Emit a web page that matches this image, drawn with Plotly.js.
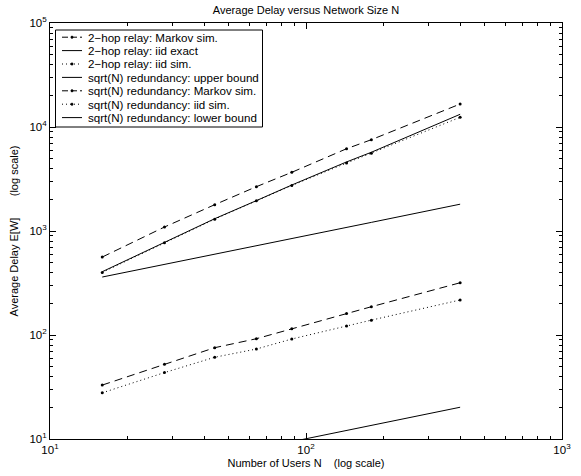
<!DOCTYPE html>
<html>
<head>
<meta charset="utf-8">
<script src="https://cdn.plot.ly/plotly-3.0.1.min.js"></script>
<style>html,body{margin:0;padding:0;background:#fff;}#chart{width:581px;height:476px;}</style>
</head>
<body>
<div id="chart"></div>
<script>
// ---- data ----
const usersN      = [16, 28, 44, 64, 88, 144, 180, 400];
const hopMarkov   = [562, 1092, 1791, 2667, 3667, 6180, 7550, 16630];
const hopIidExact = [406, 776, 1313, 1959, 2767, 4613, 5717, 13250];
const hopIidSim   = [400, 770, 1300, 1950, 2740, 4500, 5600, 12390];
const sqrtUpper   = [361, 476, 597, 722, 847, 1085, 1210, 1810];
const sqrtMarkov  = [33.0, 52.2, 75.5, 92.1, 115, 161, 187, 318];
const sqrtIidSim  = [27.8, 43.5, 61.1, 73.3, 91.5, 122, 139, 217];
const sqrtLower   = [4.0, 5.3, 6.6, 8.0, 9.4, 12.0, 13.4, 20.2];

const seriesNames = [
  '2\u2212hop relay: Markov sim.',
  '2\u2212hop relay: iid exact',
  '2\u2212hop relay: iid sim.',
  'sqrt(N) redundancy: upper bound',
  'sqrt(N) redundancy: Markov sim.',
  'sqrt(N) redundancy: iid sim.',
  'sqrt(N) redundancy: lower bound'
];
const seriesValues = [hopMarkov, hopIidExact, hopIidSim, sqrtUpper, sqrtMarkov, sqrtIidSim, sqrtLower];

const xTickVals = [10, 100, 1000];
const xTickText = ['10<sup>1</sup>', '10<sup>2</sup>', '10<sup>3</sup>'];
const yTickVals = [10, 100, 1000, 10000, 100000];
const yTickText = ['10<sup>1</sup>', '10<sup>2</sup>', '10<sup>3</sup>', '10<sup>4</sup>', '10<sup>5</sup>'];

// ---- styles ----
const DASH = '8px,5px';
const DOT = '1px,3px';
const styles = [
  {dash: DASH, marker: true},
  {dash: 'solid', marker: false},
  {dash: DOT, marker: true},
  {dash: 'solid', marker: false},
  {dash: DASH, marker: true},
  {dash: DOT, marker: true},
  {dash: 'solid', marker: false}
];

function minorTicks(fromExp, toExp) {
  const out = [];
  for (let e = fromExp; e < toExp; e++) {
    for (let k = 2; k <= 9; k++) out.push(k * Math.pow(10, e));
  }
  return out;
}

const traces = seriesValues.map((vals, i) => ({
  x: usersN,
  y: vals,
  name: seriesNames[i],
  type: 'scatter',
  mode: styles[i].marker ? 'lines+markers' : 'lines',
  line: {color: 'black', width: 1, dash: styles[i].dash},
  marker: {color: 'black', size: 3, symbol: 'circle'},
  showlegend: false,
  cliponaxis: true
}));

// ---- hand-built legend box (MATLAB style, compact rows) ----
const L = 50, R = 562, T = 23, B = 439;
const px2x = p => (p - L) / (R - L);
const py2y = p => (B - p) / (B - T);
const fontFam = 'Liberation Sans, Arial, Helvetica, sans-serif';
const shapes = [];
const annotations = [];
shapes.push({type: 'rect', xref: 'paper', yref: 'paper', layer: 'above',
  x0: px2x(55.5), x1: px2x(262.5), y0: py2y(127), y1: py2y(30),
  line: {color: 'black', width: 1}, fillcolor: 'white'});
const rowY0 = 37.2, rowStep = 13.4;
seriesNames.forEach((nm, i) => {
  const yy = rowY0 + i * rowStep;
  shapes.push({type: 'line', xref: 'paper', yref: 'paper', layer: 'above',
    x0: px2x(62), x1: px2x(82), y0: py2y(yy), y1: py2y(yy),
    line: {color: 'black', width: 1, dash: styles[i].dash === 'solid' ? 'solid' : (styles[i].dash === DASH ? '6px,3px' : DOT)}});
  if (styles[i].marker) {
    shapes.push({type: 'circle', xref: 'paper', yref: 'paper', layer: 'above',
      x0: px2x(70.8), x1: px2x(73.2), y0: py2y(yy + 1.2), y1: py2y(yy - 1.2),
      line: {color: 'black', width: 0.5}, fillcolor: 'black'});
  }
  annotations.push({xref: 'paper', yref: 'paper', x: px2x(86), y: py2y(yy),
    xanchor: 'left', yanchor: 'middle', showarrow: false, text: nm,
    font: {family: fontFam, size: 11.6, color: 'black'}});
});

const axisCommon = {
  type: 'log',
  ticks: 'inside', ticklen: 6, tickwidth: 1, tickcolor: 'black',
  showline: true, linecolor: 'black', linewidth: 1, mirror: 'allticks',
  showgrid: false, zeroline: false,
  tickmode: 'array',
  tickfont: {family: fontFam, size: 11.5, color: 'black'}
};

const layout = {
  width: 581, height: 476,
  margin: {l: L, r: 581 - R, t: T, b: 476 - B, pad: 0},
  paper_bgcolor: 'white', plot_bgcolor: 'white',
  font: {family: fontFam, size: 11, color: 'black'},
  title: {text: 'Average Delay versus Network Size N', x: 0.5, xref: 'paper',
          y: 1 - 10 / 476, yref: 'container', yanchor: 'middle',
          font: {family: fontFam, size: 11, color: 'black'}},
  xaxis: Object.assign({}, axisCommon, {
    range: [1, 3], tickvals: xTickVals, ticktext: xTickText,
    minor: {tickmode: 'array', tickvals: minorTicks(1, 3), ticks: 'inside', ticklen: 3, tickcolor: 'black', showgrid: false},
    title: {text: 'Number of Users N\u00a0\u00a0\u00a0\u00a0(log scale)', standoff: 4,
            font: {family: fontFam, size: 11, color: 'black'}}
  }),
  yaxis: Object.assign({}, axisCommon, {
    range: [1, 5], tickvals: yTickVals, ticktext: yTickText,
    minor: {tickmode: 'array', tickvals: minorTicks(1, 5), ticks: 'inside', ticklen: 3, tickcolor: 'black', showgrid: false},
    title: {text: 'Average Delay E[W]\u00a0\u00a0\u00a0\u00a0\u00a0\u00a0\u00a0(log scale)', standoff: 8,
            font: {family: fontFam, size: 11, color: 'black'}}
  }),
  shapes: shapes,
  annotations: annotations,
  showlegend: false
};

Plotly.newPlot('chart', traces, layout, {staticPlot: true, displayModeBar: false});
</script>
</body>
</html>
